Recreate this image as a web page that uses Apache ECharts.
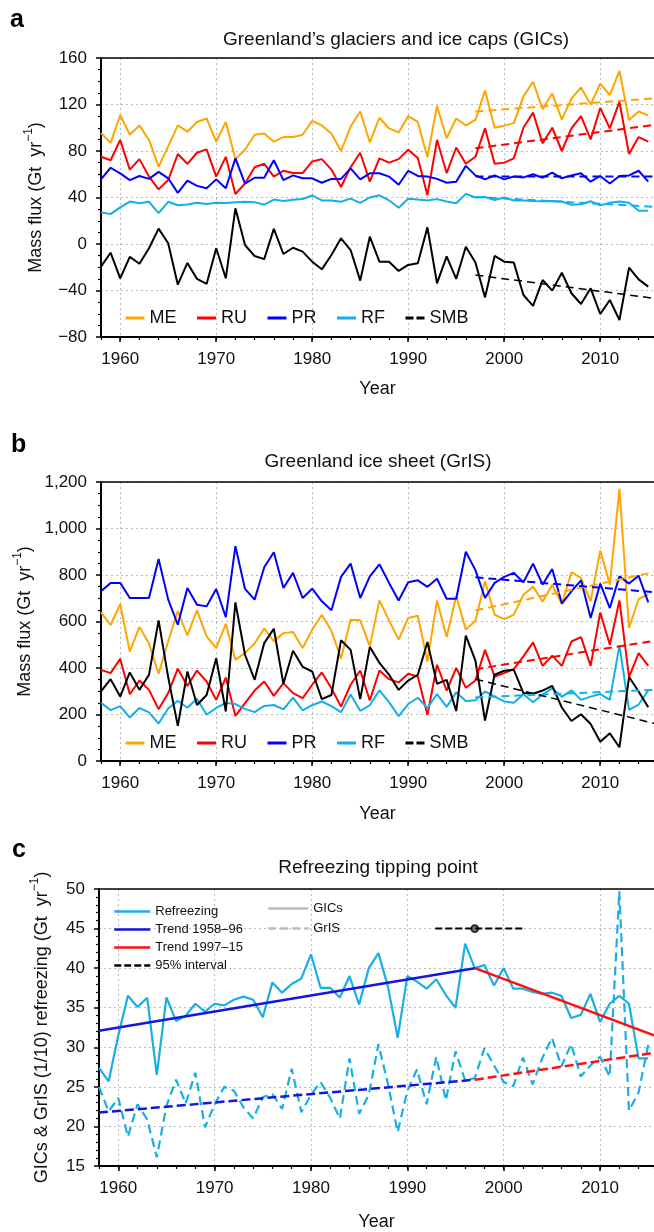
<!DOCTYPE html>
<html>
<head>
<meta charset="utf-8">
<script src="https://cdn.jsdelivr.net/npm/echarts@6/dist/echarts.min.js"></script>
<style>
html, body { margin: 0; padding: 0; background: #fff; }
#chart { width: 654px; height: 1232px; }
</style>
</head>
<body>
<div id="chart"></div>
<script>
// years 1958-2015
var years = [1958, 1959, 1960, 1961, 1962, 1963, 1964, 1965, 1966, 1967,
             1968, 1969, 1970, 1971, 1972, 1973, 1974, 1975, 1976, 1977,
             1978, 1979, 1980, 1981, 1982, 1983, 1984, 1985, 1986, 1987,
             1988, 1989, 1990, 1991, 1992, 1993, 1994, 1995, 1996, 1997,
             1998, 1999, 2000, 2001, 2002, 2003, 2004, 2005, 2006, 2007,
             2008, 2009, 2010, 2011, 2012, 2013, 2014, 2015];
var majorYears = [1960, 1970, 1980, 1990, 2000, 2010];

// a: glaciers and ice caps (Gt/yr)
var gicME = [95.5, 87, 111, 94, 102, 89.5, 66.5, 84, 102, 96.6, 105, 108, 88, 105, 73, 81, 94, 95, 88, 92,
             92, 94, 106, 102, 95, 80, 101, 114, 87.5, 108.6, 99.5, 96, 110, 105, 74.6, 118.7, 91, 108, 102, 106.7,
             132, 100, 101.8, 104, 127, 139.6, 116, 129.6, 107, 125, 134.7, 120, 138, 128, 149, 106.7, 114, 110.7];
var gicRU = [75, 72, 89.5, 64, 73, 58, 47, 55, 77.4, 69, 78.5, 81.4, 58, 75, 43, 52, 66, 69, 58, 63,
             61, 61, 71, 73, 64, 49, 66, 78.5, 53.6, 73.7, 70, 73, 81, 74, 42, 89.5, 61, 83, 69, 75,
             99.5, 69, 70, 73.7, 100, 113, 86.6, 100, 80, 99.5, 110, 90, 117, 99.5, 122.4, 77.4, 92, 88];
var gicPR = [55.6, 65.6, 60.8, 55, 58.5, 56, 62, 56.5, 44, 54.5, 50, 48, 55.6, 48, 73.7, 52, 57, 57, 72, 55,
             59, 56.5, 56.5, 52.7, 56, 56, 65, 55.6, 60.8, 60.8, 58, 51, 63, 58.5, 58, 56, 52.7, 53.6, 67.2, 59,
             55.6, 59, 55.6, 58, 57.3, 60, 57, 61.4, 56.5, 59, 60.8, 53.6, 58.5, 52, 58.5, 59, 63, 53.6];
var gicRF = [27.4, 25.7, 31.5, 36.5, 35.1, 36.25, 26.5, 36.3, 33.3, 34, 35.5, 34.5, 35.5, 35.3, 36, 36.4, 36, 33.8, 38.2, 36.9,
             38, 38.7, 41.75, 37.5, 37.5, 36.3, 39, 35.4, 40, 41.9, 37.6, 31.2, 39, 38.3, 37.4, 38.6, 36.6, 35, 43.1, 40,
             40.4, 37.8, 40, 37.4, 37.4, 37, 36.75, 36.9, 36.5, 33.7, 34.1, 36.75, 33.2, 35.5, 36.5, 35.5, 28.6, 28.6];
var gicSMB = [-19.5, -7.5, -29.5, -11, -17, -3.7, 13.2, 0.6, -35, -16.3, -30, -34.4, -3.7, -29.5, 30.7, -0.9, -10.3, -13, 13, -8.6,
              -3.2, -6.6, -15.2, -21.8, -9.5, 4.9, -5.2, -31.5, 6.3, -15.2, -15.2, -23.2, -18, -16.6, 14.3, -33.8, -10.6, -30, -2.3, -16,
              -45.9, -10.3, -15.2, -16, -43.9, -53.3, -31, -40.1, -24.7, -42.4, -51.6, -38.1, -60.2, -48.2, -65.4, -20.4, -30.4, -36.7];

// b: ice sheet (Gt/yr)
var grisME = [639, 585, 675, 470, 576, 505, 375, 515, 645, 540, 648, 536, 486, 590, 435, 465, 505, 570, 515, 550,
              555, 486, 565, 628, 560, 440, 608, 605, 493, 691, 605, 522, 615, 625, 428, 690, 533, 710, 565, 603,
              773, 629, 610, 630, 715, 750, 685, 758, 675, 812, 787, 687, 905, 759, 1171, 572, 697, 716];
var grisRU = [392, 378, 440, 287, 346, 306, 223, 292, 397, 323, 389, 342, 263, 359, 194, 249, 303, 342, 280, 335,
              292, 270, 328, 381, 313, 234, 328, 389, 260, 389, 352, 338, 375, 363, 198, 414, 303, 400, 315, 346,
              478, 363, 378, 395, 450, 510, 409, 453, 409, 514, 533, 409, 639, 500, 691, 361, 464, 409];
var grisPR = [730, 766, 766, 701, 701, 701, 869, 694, 586, 744, 672, 665, 740, 619, 924, 740, 694, 833, 898, 744,
              809, 701, 741, 687, 648, 792, 849, 701, 794, 846, 766, 690, 769, 777, 749, 784, 698, 698, 900, 821,
              701, 766, 792, 809, 769, 849, 759, 826, 677, 730, 777, 615, 763, 658, 794, 763, 797, 682];
var grisRF = [250, 219, 236, 187, 228, 209, 161, 226, 259, 229, 268, 199, 228, 250, 245, 224, 210, 237, 241, 222,
              273, 218, 240, 256, 236, 210, 286, 216, 240, 304, 253, 193, 245, 272, 228, 288, 233, 295, 258, 261,
              299, 277, 256, 251, 287, 253, 286, 312, 276, 304, 263, 277, 288, 263, 497, 220, 243, 303];
var grisSMB = [299, 352, 277, 381, 306, 371, 605, 360, 151, 385, 241, 284, 442, 213, 682, 457, 349, 507, 569, 332,
               474, 405, 385, 266, 284, 519, 478, 266, 490, 422, 371, 306, 346, 371, 512, 332, 349, 215, 539, 432,
               174, 371, 388, 392, 292, 289, 303, 323, 230, 172, 201, 159, 83, 119, 59, 361, 299, 231];

// trend lines (start, end values)
var earlySpan = [1958, 1997];
var lateSpan = [1997, 2015.6];
var gicTrendME = [114, 125.3], gicTrendRU = [82.3, 102.4], gicTrendPR = [58, 58], gicTrendRF = [40.5, 32], gicTrendSMB = [-26.7, -46.7];
var grisTrendME = [648, 812], grisTrendRU = [395, 517], grisTrendPR = [790, 726], grisTrendRF = [274, 306], grisTrendSMB = [352, 162];
var rfGicEarly = [32.1, 40.0], rfGicLate = [40.0, 31.5];
var rfGrisEarly = [21.75, 25.9], rfGrisLate = [25.9, 29.3];
var intervalSpan = [1992.9, 2002.1], tippingYear = 1997, intervalLevel = 45;

var FONT = 'Liberation Sans, Arial, Helvetica, sans-serif';
var C = { ME: '#FFA500', RU: '#FF0000', PR: '#0000FF', RF: '#14AEEA', SMB: '#000000' };
var xMin = 1958, xMax = 2015.6;

function pairs(vals, scale) {
    return years.map(function (y, i) { return [y, scale ? vals[i] / scale : vals[i]]; });
}
function span(sp, vals) { return [[sp[0], vals[0]], [sp[1], vals[1]]]; }

function line(name, axis, data, color, width, dash) {
    return {
        name: name, type: 'line', xAxisIndex: axis * 3, yAxisIndex: axis,
        data: data, symbol: 'none', color: color, silent: true,
        lineStyle: { color: color, width: width, type: dash || 'solid' }
    };
}

function xAxes(g, nameGap) {
    return [
        { type: 'value', gridIndex: g, min: xMin, max: xMax, position: 'bottom',
          name: 'Year', nameLocation: 'middle', nameGap: nameGap,
          nameTextStyle: { fontSize: 18, color: '#111', fontFamily: FONT },
          axisLine: { onZero: false, lineStyle: { color: '#000', width: 2 } },
          axisTick: { show: true, customValues: majorYears, length: 5, lineStyle: { color: '#000', width: 1.5 } },
          axisLabel: { customValues: majorYears, margin: 14, fontSize: 17, color: '#111', fontFamily: FONT,
                       formatter: function (v) { return String(v); } },
          splitLine: { show: true, lineStyle: { color: '#bbb', type: [2, 3], width: 1 } } },
        { type: 'value', gridIndex: g, min: xMin, max: xMax, position: 'bottom', interval: 2,
          axisLine: { show: false, onZero: false },
          axisTick: { show: true, length: 3, lineStyle: { color: '#000', width: 1.2 } },
          axisLabel: { show: false }, splitLine: { show: false } },
        { type: 'value', gridIndex: g, min: xMin, max: xMax, position: 'top',
          axisLine: { show: true, onZero: false, lineStyle: { color: '#000', width: 1.5 } },
          axisTick: { show: false }, axisLabel: { show: false }, splitLine: { show: false } }
    ];
}

function yAxis(g, min, max, interval, minorSplit, name, nameGap, fmt) {
    return {
        type: 'value', gridIndex: g, min: min, max: max, interval: interval, position: 'left',
        name: name, nameLocation: 'middle', nameGap: nameGap, nameRotate: 90,
        nameTextStyle: {
            fontSize: 18, color: '#111', fontFamily: FONT,
            rich: {
                n: { fontSize: 18, color: '#111', fontFamily: FONT, lineHeight: 22, verticalAlign: 'bottom' },
                s: { fontSize: 12, color: '#111', fontFamily: FONT, lineHeight: 22, verticalAlign: 'top' }
            }
        },
        axisLine: { show: true, onZero: false, lineStyle: { color: '#000', width: 2 } },
        axisTick: { show: true, length: 5, lineStyle: { color: '#000', width: 1.5 } },
        minorTick: { show: true, splitNumber: minorSplit, length: 3, lineStyle: { color: '#000', width: 1.2 } },
        axisLabel: { margin: 14, fontSize: 17, color: '#111', fontFamily: FONT, formatter: fmt },
        splitLine: { show: true, lineStyle: { color: '#bbb', type: [2, 3], width: 1 } }
    };
}

var fmtMinus = function (v) { return v < 0 ? '\u2212' + Math.abs(v) : String(v); };
var fmtComma = function (v) { return v.toLocaleString('en-US'); };
var fluxName = '{n|Mass flux (Gt  yr}{s|\u22121}{n|)}';

var series = [
    line('ME', 0, pairs(gicME), C.ME, 2),
    line('RU', 0, pairs(gicRU), C.RU, 2),
    line('PR', 0, pairs(gicPR), C.PR, 2),
    line('RF', 0, pairs(gicRF), C.RF, 2),
    line('SMB', 0, pairs(gicSMB), C.SMB, 2),
    line('ME tr a', 0, span(lateSpan, gicTrendME), C.ME, 2, [8, 5]),
    line('RU tr a', 0, span(lateSpan, gicTrendRU), C.RU, 2, [8, 5]),
    line('PR tr a', 0, span(lateSpan, gicTrendPR), C.PR, 2, [8, 5]),
    line('RF tr a', 0, span(lateSpan, gicTrendRF), C.RF, 2, [8, 5]),
    line('SMB tr a', 0, span(lateSpan, gicTrendSMB), C.SMB, 1.5, [8, 5]),

    line('ME', 1, pairs(grisME), C.ME, 2),
    line('RU', 1, pairs(grisRU), C.RU, 2),
    line('PR', 1, pairs(grisPR), C.PR, 2),
    line('RF', 1, pairs(grisRF), C.RF, 2),
    line('SMB', 1, pairs(grisSMB), C.SMB, 2),
    line('ME tr b', 1, span(lateSpan, grisTrendME), C.ME, 2, [8, 5]),
    line('RU tr b', 1, span(lateSpan, grisTrendRU), C.RU, 2, [8, 5]),
    line('PR tr b', 1, span(lateSpan, grisTrendPR), C.PR, 2, [8, 5]),
    line('RF tr b', 1, span(lateSpan, grisTrendRF), C.RF, 2, [8, 5]),
    line('SMB tr b', 1, span(lateSpan, grisTrendSMB), C.SMB, 1.5, [8, 5]),

    line('Refreezing', 2, pairs(gicRF), '#19AEE6', 2.2),
    line('Refreezing GrIS', 2, pairs(grisRF, 10), '#19AEE6', 2.2, [9, 5]),
    line('Trend 1958\u201396', 2, span(earlySpan, rfGicEarly), '#1515E0', 2.5),
    line('Trend 1997\u201315', 2, span(lateSpan, rfGicLate), '#FF1010', 2.5),
    line('Trend early GrIS', 2, span(earlySpan, rfGrisEarly), '#1515E0', 2.5, [9, 4]),
    line('Trend late GrIS', 2, span(lateSpan, rfGrisLate), '#FF1010', 2.5, [9, 4]),
    line('95% interval', 2, [[intervalSpan[0], intervalLevel], [intervalSpan[1], intervalLevel]], '#000', 2, [7, 3]),
    line('GICs', 2, [], '#BBBBBB', 2.5),
    line('GrIS', 2, [], '#BBBBBB', 2.5, [8, 4]),
    { name: 'tipping', type: 'scatter', xAxisIndex: 6, yAxisIndex: 2, silent: true,
      data: [[tippingYear, intervalLevel]], symbol: 'circle', symbolSize: 7,
      itemStyle: { color: '#555', borderColor: '#000', borderWidth: 1.8 } }
];

var legendText = { fontSize: 18, color: '#111', fontFamily: FONT };
var noSymbol = { opacity: 0 };
var option = {
    animation: false,
    backgroundColor: '#fff',
    grid: [
        { left: 101, right: 0, top: 58, height: 279 },
        { left: 101, right: 0, top: 482, height: 279 },
        { left: 99, right: 0, top: 889, height: 280 }
    ],
    xAxis: [].concat(xAxes(0, 43), xAxes(1, 44), xAxes(2, 47)),
    yAxis: [
        yAxis(0, -80, 160, 40, 4, fluxName, 56, fmtMinus),
        yAxis(1, 0, 1200, 200, 4, fluxName, 67, fmtComma),
        yAxis(2, 15, 50, 5, 5, '{n|GICs & GrIS (1/10) refreezing (Gt  yr}{s|\u22121}{n|)}', 48, null)
    ],
    legend: [
        { left: 119, top: 304, itemWidth: 19, itemHeight: 14, itemGap: 19, selectedMode: false,
          textStyle: legendText, lineStyle: { width: 3 }, itemStyle: noSymbol,
          data: ['ME', 'RU', 'PR', 'RF', { name: 'SMB', lineStyle: { type: [8, 3] } }] },
        { left: 119, top: 729, itemWidth: 19, itemHeight: 14, itemGap: 19, selectedMode: false,
          textStyle: legendText, lineStyle: { width: 3 }, itemStyle: noSymbol,
          data: ['ME', 'RU', 'PR', 'RF', { name: 'SMB', lineStyle: { type: [8, 3] } }] },
        { left: 108, top: 900, orient: 'vertical', itemWidth: 36, itemHeight: 14, itemGap: 5, selectedMode: false,
          textStyle: { fontSize: 13, color: '#111', fontFamily: FONT }, lineStyle: { width: 2.5 }, itemStyle: noSymbol,
          data: ['Refreezing', 'Trend 1958\u201396', 'Trend 1997\u201315', '95% interval'] },
        { left: 262, top: 897, orient: 'vertical', itemWidth: 40, itemHeight: 14, itemGap: 7, selectedMode: false,
          textStyle: { fontSize: 13, color: '#111', fontFamily: FONT }, lineStyle: { width: 2.5 }, itemStyle: noSymbol,
          data: ['GICs', 'GrIS'] }
    ],
    graphic: [
        { type: 'text', x: 396, y: 40, style: { text: 'Greenland\u2019s glaciers and ice caps (GICs)', fontSize: 19, fontFamily: FONT, fill: '#111', align: 'center', verticalAlign: 'middle' } },
        { type: 'text', x: 378, y: 462, style: { text: 'Greenland ice sheet (GrIS)', fontSize: 19, fontFamily: FONT, fill: '#111', align: 'center', verticalAlign: 'middle' } },
        { type: 'text', x: 378, y: 868, style: { text: 'Refreezing tipping point', fontSize: 19, fontFamily: FONT, fill: '#111', align: 'center', verticalAlign: 'middle' } },
        { type: 'text', x: 10, y: 20, style: { text: 'a', fontSize: 25, fontWeight: 'bold', fontFamily: FONT, fill: '#000', align: 'left', verticalAlign: 'middle' } },
        { type: 'text', x: 11, y: 445, style: { text: 'b', fontSize: 25, fontWeight: 'bold', fontFamily: FONT, fill: '#000', align: 'left', verticalAlign: 'middle' } },
        { type: 'text', x: 12, y: 850, style: { text: 'c', fontSize: 25, fontWeight: 'bold', fontFamily: FONT, fill: '#000', align: 'left', verticalAlign: 'middle' } }
    ],
    series: series
};

var myChart = echarts.init(document.getElementById('chart'));
myChart.setOption(option);
</script>
</body>
</html>
